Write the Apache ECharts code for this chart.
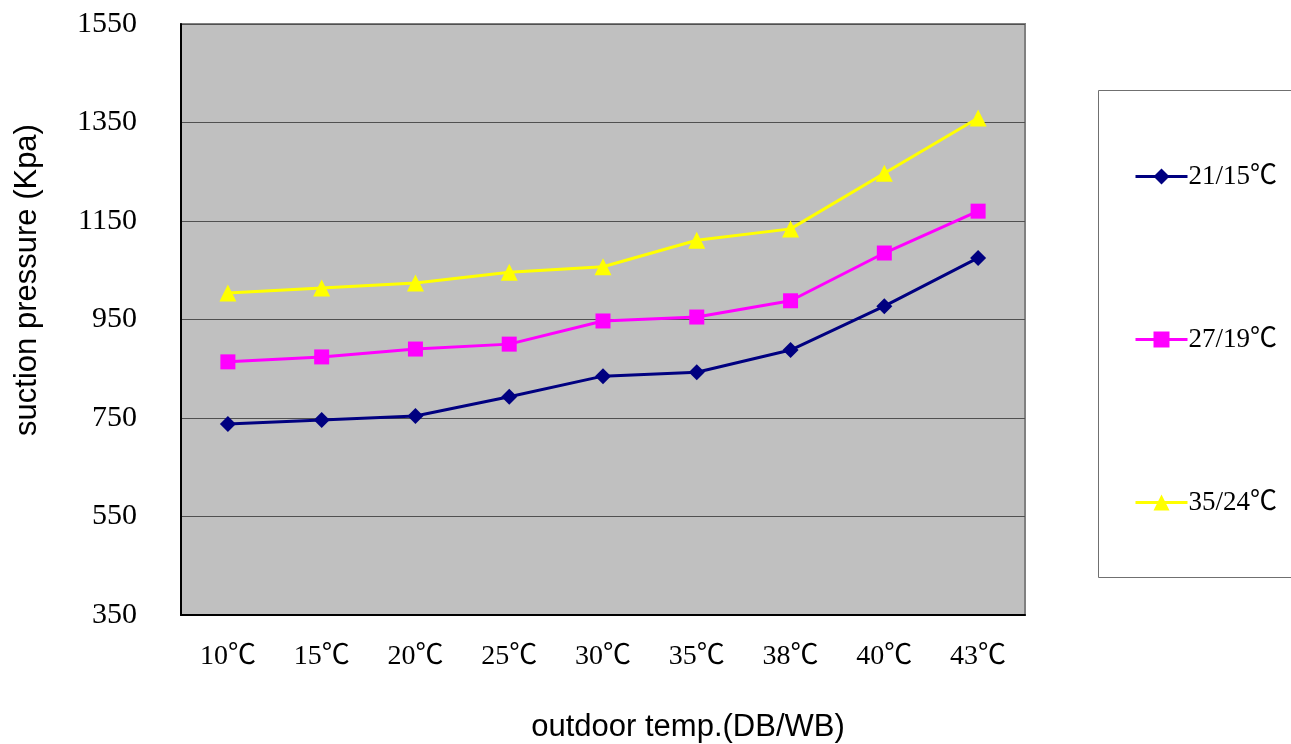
<!DOCTYPE html>
<html>
<head>
<meta charset="utf-8">
<title>suction pressure</title>
<script src="https://cdn.jsdelivr.net/npm/echarts@6/dist/echarts.min.js"></script>
<style>
  html, body { margin: 0; padding: 0; background: #fff; }
  #chart { width: 1291px; height: 744px; }
</style>
</head>
<body>
<div id="chart"></div>
<script>
// categories (outdoor temp)
const temps = ["10℃", "15℃", "20℃", "25℃", "30℃", "35℃", "38℃", "40℃", "43℃"];

// suction pressure, Kpa
const p2115 = [738, 746, 754, 793, 835, 843, 888, 977, 1075];
const p2719 = [864, 874, 890, 900, 947, 955, 988, 1085, 1170];
const p3524 = [1004, 1014, 1024, 1046, 1057, 1111, 1134, 1247, 1359];

const seriesNames = ["21/15℃", "27/19℃", "35/24℃"];

// y axis range
const yMin = 350;
const yMax = 1550;
const yStep = 200;

const serif = '"Liberation Serif", "Noto Sans CJK SC", serif';
const sans = '"Liberation Sans", Arial, sans-serif';

const chart = echarts.init(document.getElementById("chart"));

const mkSeries = (name, data, color, symbol, size) => ({
  name: name,
  type: "line",
  data: data,
  symbol: symbol,
  symbolSize: size,
  lineStyle: { color: color, width: 3 },
  itemStyle: { color: color },
  animation: false,
});

const option = {
  backgroundColor: "#fff",
  grid: {
    left: 181,
    top: 24,
    width: 844,
    height: 591,
    show: true,
    backgroundColor: "#c0c0c0",
    borderColor: "#808080",
    borderWidth: 2,
  },
  xAxis: {
    type: "category",
    data: temps,
    boundaryGap: true,
    axisLine: { lineStyle: { color: "#000", width: 2 } },
    axisTick: { inside: true, length: 7, lineStyle: { color: "#555" } },
    axisLabel: {
      color: "#000",
      fontFamily: serif,
      fontSize: 28,
      margin: 28,
    },
  },
  yAxis: {
    type: "value",
    min: yMin,
    max: yMax,
    interval: yStep,
    axisLine: { show: true, lineStyle: { color: "#000", width: 2 } },
    axisTick: { show: false },
    splitLine: { lineStyle: { color: "#505050", width: 1 } },
    axisLabel: {
      color: "#000",
      fontFamily: serif,
      fontSize: 30,
      margin: 44,
      formatter: (v) => String(v),
    },
  },
  legend: {
    orient: "vertical",
    left: 1129,
    top: 158,
    itemWidth: 52,
    itemHeight: 20,
    itemGap: 136,
    data: seriesNames,
    lineStyle: { width: 3 },
    textStyle: {
      color: "#000",
      fontFamily: serif,
      fontSize: 27,
      lineHeight: 26,
      padding: [0, 0, 0, -4],
    },
  },
  graphic: [
    {
      type: "rect",
      left: 1098,
      top: 90,
      z: -1,
      shape: { width: 210, height: 487 },
      style: { fill: "#fff", stroke: "#707070", lineWidth: 1 },
    },
    {
      type: "text",
      x: 27,
      y: 280,
      rotation: Math.PI / 2,
      style: {
        text: "suction pressure (Kpa)",
        fontFamily: sans,
        fontSize: 31,
        fill: "#000",
        align: "center",
        verticalAlign: "middle",
      },
    },
    {
      type: "text",
      x: 688,
      y: 727,
      style: {
        text: "outdoor temp.(DB/WB)",
        fontFamily: sans,
        fontSize: 31,
        fill: "#000",
        align: "center",
        verticalAlign: "middle",
      },
    },
  ],
  series: [
    mkSeries(seriesNames[0], p2115, "#000080", "diamond", 16),
    mkSeries(seriesNames[1], p2719, "#ff00ff", "rect", 15),
    mkSeries(seriesNames[2], p3524, "#ffff00", "triangle", 17),
  ],
};

chart.setOption(option);
</script>
</body>
</html>
